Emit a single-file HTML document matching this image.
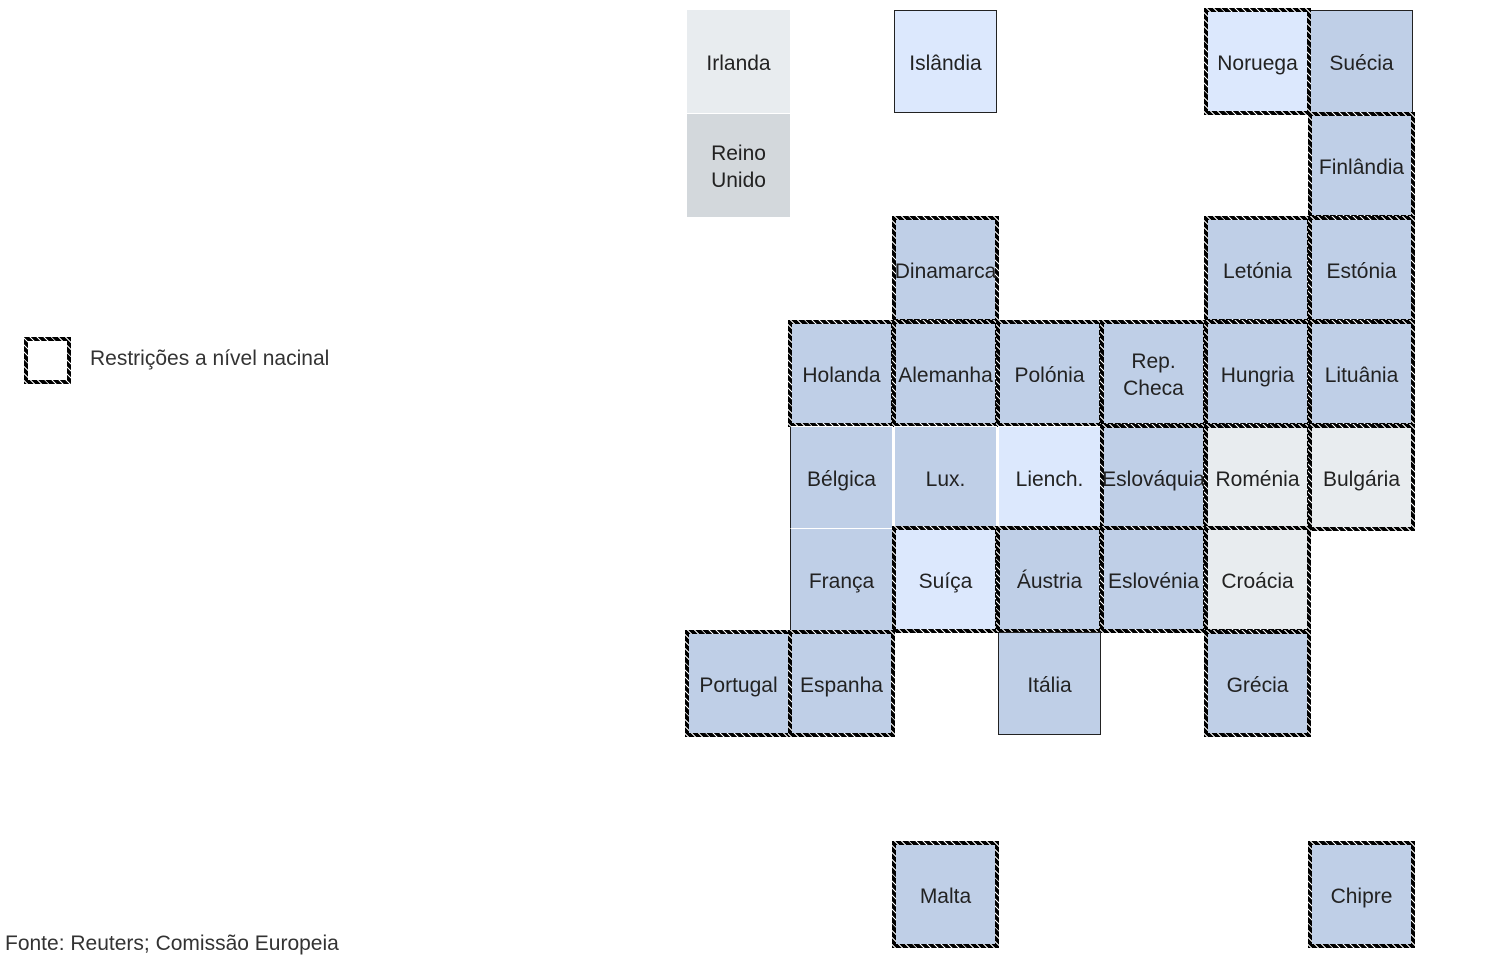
<!DOCTYPE html>
<html><head><meta charset="utf-8"><style>
body{margin:0;width:1500px;height:955px;background:#fff;position:relative;overflow:hidden;font-family:"Liberation Sans",sans-serif;}
.t{position:absolute;box-sizing:border-box;display:flex;align-items:center;justify-content:center;text-align:center;font-size:21px;color:#222;line-height:27px;width:103px;height:103px;padding-top:3px;white-space:nowrap;}
.d{background:#bfcfe7}.l{background:#dce8fd}.g{background:#e8ecef}.g2{background:#d3d8dc}
.k{border:1px solid #222}
.w{border:1px solid #fff}
.h{width:107px;height:107px;margin:-2px 0 0 -2px;border:4px solid #000;border-image:repeating-linear-gradient(45deg,#000 0 2px,#fff 2px 3px,#000 3px 5px) 4;}
</style></head><body>
<div class="t g" style="left:687px;top:10px">Irlanda</div>
<div class="t g2" style="left:687px;top:114px">Reino<br>Unido</div>
<div class="t l k" style="left:894px;top:10px">Islândia</div>
<div class="t d k" style="left:1310px;top:10px">Suécia</div>
<div class="t l h" style="left:1206px;top:10px">Noruega</div>
<div class="t d h" style="left:1310px;top:114px">Finlândia</div>
<div class="t d h" style="left:894px;top:218px">Dinamarca</div>
<div class="t d h" style="left:1206px;top:218px">Letónia</div>
<div class="t d h" style="left:1310px;top:218px">Estónia</div>
<div class="t d h" style="left:790px;top:322px">Holanda</div>
<div class="t d h" style="left:894px;top:322px">Alemanha</div>
<div class="t d h" style="left:998px;top:322px">Polónia</div>
<div class="t d h" style="left:1102px;top:322px">Rep.<br>Checa</div>
<div class="t d h" style="left:1206px;top:322px">Hungria</div>
<div class="t d h" style="left:1310px;top:322px">Lituânia</div>
<div class="t d w" style="left:790px;top:426px;border-left-color:#222">Bélgica</div>
<div class="t d w" style="left:894px;top:426px">Lux.</div>
<div class="t l w" style="left:998px;top:426px">Liench.</div>
<div class="t d h" style="left:1102px;top:426px">Eslováquia</div>
<div class="t g h" style="left:1206px;top:426px">Roménia</div>
<div class="t g h" style="left:1310px;top:426px">Bulgária</div>
<div class="t d w" style="left:790px;top:528px;border-left-color:#222">França</div>
<div class="t l h" style="left:894px;top:528px">Suíça</div>
<div class="t d h" style="left:998px;top:528px">Áustria</div>
<div class="t d h" style="left:1102px;top:528px">Eslovénia</div>
<div class="t g h" style="left:1206px;top:528px">Croácia</div>
<div class="t d h" style="left:687px;top:632px">Portugal</div>
<div class="t d h" style="left:790px;top:632px">Espanha</div>
<div class="t d k" style="left:998px;top:632px">Itália</div>
<div class="t d h" style="left:1206px;top:632px">Grécia</div>
<div class="t d h" style="left:894px;top:843px">Malta</div>
<div class="t d h" style="left:1310px;top:843px">Chipre</div>
<div class="t h" style="left:26px;top:339px;width:47px;height:47px;background:#fff"></div>
<div style="position:absolute;left:90px;top:347px;font-size:21px;color:#333">Restrições a nível nacinal</div>
<div style="position:absolute;left:5px;top:932px;font-size:21px;color:#333">Fonte: Reuters; Comissão Europeia</div>
</body></html>
